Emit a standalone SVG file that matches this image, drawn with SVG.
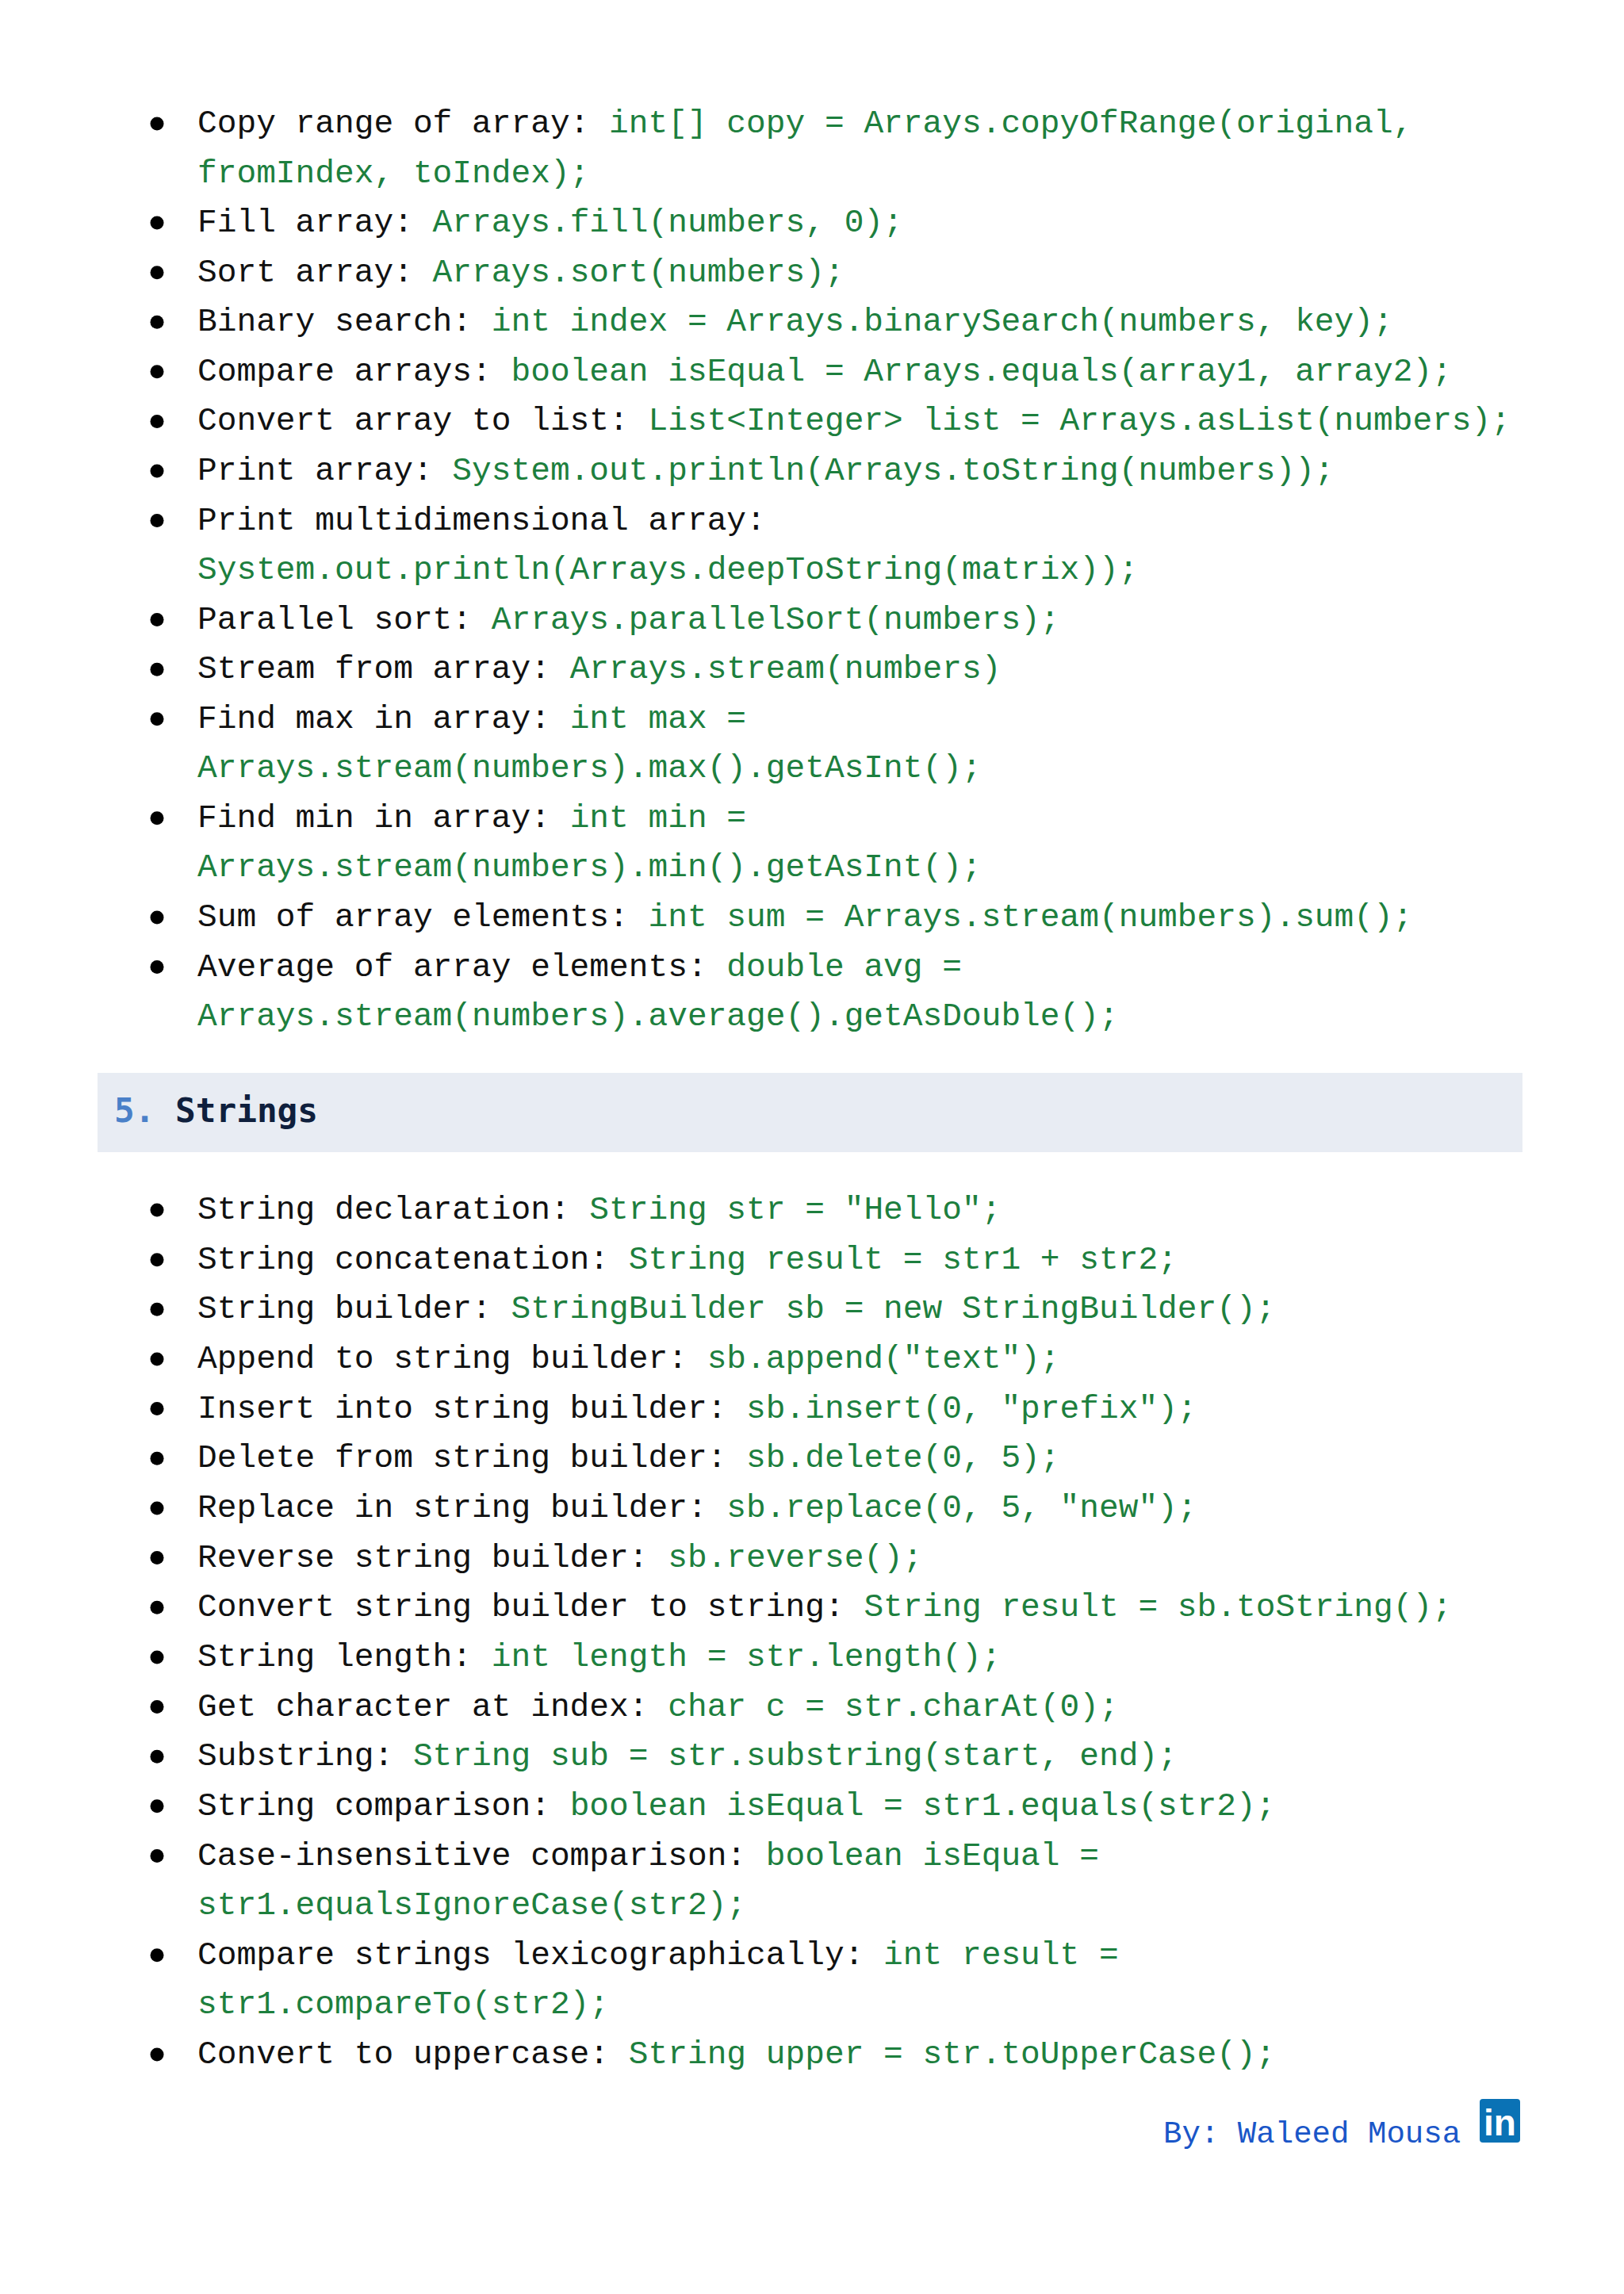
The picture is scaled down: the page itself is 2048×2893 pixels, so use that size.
<svg xmlns="http://www.w3.org/2000/svg" width="2048" height="2893" viewBox="0 0 2048 2893" xml:space="preserve">
<style>
.t{font-family:"Liberation Mono","DejaVu Sans Mono",monospace;font-size:41.2px;fill:#111111}
.c{fill:#1d7f3e}
.b{fill:#000000}
.h{font-family:"DejaVu Sans Mono","Liberation Mono",monospace;font-size:42.7px;font-weight:bold}
.f{font-family:"Liberation Mono","DejaVu Sans Mono",monospace;font-size:39.1px;fill:#1a56c8}
</style>
<rect x="0" y="0" width="2048" height="2893" fill="#ffffff"/>
<g id="arrays-list">
<g id="a1"><circle class="b" cx="198" cy="156" r="8.5"/><text class="t" x="249" y="167">Copy range of array: <tspan class="c">int[] copy = Arrays.copyOfRange(original,</tspan></text><text class="t c" x="249" y="229.6">fromIndex, toIndex);</text></g>
<g id="a2"><circle class="b" cx="198" cy="281.1" r="8.5"/><text class="t" x="249" y="292.1">Fill array: <tspan class="c">Arrays.fill(numbers, 0);</tspan></text></g>
<g id="a3"><circle class="b" cx="198" cy="343.7" r="8.5"/><text class="t" x="249" y="354.7">Sort array: <tspan class="c">Arrays.sort(numbers);</tspan></text></g>
<g id="a4"><circle class="b" cx="198" cy="406.2" r="8.5"/><text class="t" x="249" y="417.2">Binary search: <tspan class="c">int index = Arrays.binarySearch(numbers, key);</tspan></text></g>
<g id="a5"><circle class="b" cx="198" cy="468.8" r="8.5"/><text class="t" x="249" y="479.8">Compare arrays: <tspan class="c">boolean isEqual = Arrays.equals(array1, array2);</tspan></text></g>
<g id="a6"><circle class="b" cx="198" cy="531.4" r="8.5"/><text class="t" x="249" y="542.4">Convert array to list: <tspan class="c">List&lt;Integer&gt; list = Arrays.asList(numbers);</tspan></text></g>
<g id="a7"><circle class="b" cx="198" cy="593.9" r="8.5"/><text class="t" x="249" y="604.9">Print array: <tspan class="c">System.out.println(Arrays.toString(numbers));</tspan></text></g>
<g id="a8"><circle class="b" cx="198" cy="656.5" r="8.5"/><text class="t" x="249" y="667.5">Print multidimensional array:</text><text class="t c" x="249" y="730">System.out.println(Arrays.deepToString(matrix));</text></g>
<g id="a9"><circle class="b" cx="198" cy="781.6" r="8.5"/><text class="t" x="249" y="792.6">Parallel sort: <tspan class="c">Arrays.parallelSort(numbers);</tspan></text></g>
<g id="a10"><circle class="b" cx="198" cy="844.2" r="8.5"/><text class="t" x="249" y="855.2">Stream from array: <tspan class="c">Arrays.stream(numbers)</tspan></text></g>
<g id="a11"><circle class="b" cx="198" cy="906.7" r="8.5"/><text class="t" x="249" y="917.7">Find max in array: <tspan class="c">int max =</tspan></text><text class="t c" x="249" y="980.3">Arrays.stream(numbers).max().getAsInt();</text></g>
<g id="a12"><circle class="b" cx="198" cy="1031.8" r="8.5"/><text class="t" x="249" y="1042.8">Find min in array: <tspan class="c">int min =</tspan></text><text class="t c" x="249" y="1105.4">Arrays.stream(numbers).min().getAsInt();</text></g>
<g id="a13"><circle class="b" cx="198" cy="1157" r="8.5"/><text class="t" x="249" y="1168">Sum of array elements: <tspan class="c">int sum = Arrays.stream(numbers).sum();</tspan></text></g>
<g id="a14"><circle class="b" cx="198" cy="1219.5" r="8.5"/><text class="t" x="249" y="1230.5">Average of array elements: <tspan class="c">double avg =</tspan></text><text class="t c" x="249" y="1293.1">Arrays.stream(numbers).average().getAsDouble();</text></g>
</g>
<g id="heading-strings">
<rect x="123" y="1353" width="1797" height="100" fill="#e8ecf3"/>
<text class="h" x="144" y="1415"><tspan fill="#4a80c8">5.</tspan> <tspan fill="#0f1f3d">Strings</tspan></text>
</g>
<g id="strings-list">
<g id="s1"><circle class="b" cx="198" cy="1526" r="8.5"/><text class="t" x="249" y="1537">String declaration: <tspan class="c">String str = "Hello";</tspan></text></g>
<g id="s2"><circle class="b" cx="198" cy="1588.7" r="8.5"/><text class="t" x="249" y="1599.7">String concatenation: <tspan class="c">String result = str1 + str2;</tspan></text></g>
<g id="s3"><circle class="b" cx="198" cy="1651.3" r="8.5"/><text class="t" x="249" y="1662.3">String builder: <tspan class="c">StringBuilder sb = new StringBuilder();</tspan></text></g>
<g id="s4"><circle class="b" cx="198" cy="1714" r="8.5"/><text class="t" x="249" y="1725">Append to string builder: <tspan class="c">sb.append("text");</tspan></text></g>
<g id="s5"><circle class="b" cx="198" cy="1776.6" r="8.5"/><text class="t" x="249" y="1787.6">Insert into string builder: <tspan class="c">sb.insert(0, "prefix");</tspan></text></g>
<g id="s6"><circle class="b" cx="198" cy="1839.3" r="8.5"/><text class="t" x="249" y="1850.3">Delete from string builder: <tspan class="c">sb.delete(0, 5);</tspan></text></g>
<g id="s7"><circle class="b" cx="198" cy="1901.9" r="8.5"/><text class="t" x="249" y="1912.9">Replace in string builder: <tspan class="c">sb.replace(0, 5, "new");</tspan></text></g>
<g id="s8"><circle class="b" cx="198" cy="1964.6" r="8.5"/><text class="t" x="249" y="1975.6">Reverse string builder: <tspan class="c">sb.reverse();</tspan></text></g>
<g id="s9"><circle class="b" cx="198" cy="2027.2" r="8.5"/><text class="t" x="249" y="2038.2">Convert string builder to string: <tspan class="c">String result = sb.toString();</tspan></text></g>
<g id="s10"><circle class="b" cx="198" cy="2089.9" r="8.5"/><text class="t" x="249" y="2100.9">String length: <tspan class="c">int length = str.length();</tspan></text></g>
<g id="s11"><circle class="b" cx="198" cy="2152.5" r="8.5"/><text class="t" x="249" y="2163.5">Get character at index: <tspan class="c">char c = str.charAt(0);</tspan></text></g>
<g id="s12"><circle class="b" cx="198" cy="2215.2" r="8.5"/><text class="t" x="249" y="2226.2">Substring: <tspan class="c">String sub = str.substring(start, end);</tspan></text></g>
<g id="s13"><circle class="b" cx="198" cy="2277.8" r="8.5"/><text class="t" x="249" y="2288.8">String comparison: <tspan class="c">boolean isEqual = str1.equals(str2);</tspan></text></g>
<g id="s14"><circle class="b" cx="198" cy="2340.5" r="8.5"/><text class="t" x="249" y="2351.5">Case-insensitive comparison: <tspan class="c">boolean isEqual =</tspan></text><text class="t c" x="249" y="2414.1">str1.equalsIgnoreCase(str2);</text></g>
<g id="s15"><circle class="b" cx="198" cy="2465.8" r="8.5"/><text class="t" x="249" y="2476.8">Compare strings lexicographically: <tspan class="c">int result =</tspan></text><text class="t c" x="249" y="2539.4">str1.compareTo(str2);</text></g>
<g id="s16"><circle class="b" cx="198" cy="2591.1" r="8.5"/><text class="t" x="249" y="2602.1">Convert to uppercase: <tspan class="c">String upper = str.toUpperCase();</tspan></text></g>
</g>
<g id="footer">
<text class="f" x="1467" y="2702">By: Waleed Mousa</text>
<rect x="1866" y="2647" width="51" height="55" rx="4" fill="#0a72b5"/>
<text x="1891.5" y="2693" text-anchor="middle" font-family="'Liberation Sans',Arial,sans-serif" font-size="46" font-weight="bold" fill="#ffffff">in</text>
</g>
</svg>
